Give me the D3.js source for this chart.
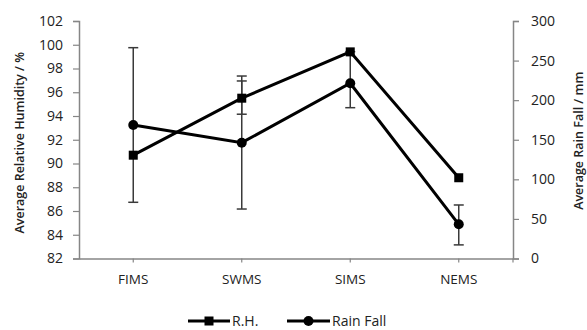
<!DOCTYPE html>
<html><head><meta charset="utf-8">
<script src="https://cdn.jsdelivr.net/npm/d3@7"></script>
<style>
html,body{margin:0;padding:0;background:#fff;}
svg{display:block;font-family:"Open Sans",sans-serif;}
</style></head>
<body><svg id="c" width="587" height="330"></svg>
<script>
const categories = ["FIMS","SWMS","SIMS","NEMS"];
const rhValues = [90.7, 95.5, 99.4, 88.8];
const rhErrPlus = [0, 1.45, 0, 0];
const rhErrMinus = [0, 1.35, 0, 0];
const rainValues = [168.6, 146.3, 221.3, 43.2];
const rainErrPlus = [97.7, 84.2, 40, 24.4];
const rainErrMinus = [97.6, 83.8, 30.8, 26];
const leftTicks = [82,84,86,88,90,92,94,96,98,100,102];
const rightTicks = [0,50,100,150,200,250,300];

const svg = d3.select("#c");
const L = 79, R = 513, T = 21, B = 258.5;
const x = d3.scaleBand().domain(categories).range([L, R]);
const yL = d3.scaleLinear().domain([82,102]).range([B, T]);
const yR = d3.scaleLinear().domain([0,300]).range([B, T]);
const axisColor = "#868686";
const textColor = "#222";

const gL = svg.append("g").attr("transform",`translate(${L},0)`)
  .call(d3.axisLeft(yL).tickValues(leftTicks).tickSize(6).tickPadding(10));
const gR = svg.append("g").attr("transform",`translate(${R},0)`)
  .call(d3.axisRight(yR).tickValues(rightTicks).tickSize(6).tickPadding(12));
const gX = svg.append("g").attr("transform",`translate(0,${B})`)
  .call(d3.axisBottom(x).tickSize(4).tickSizeOuter(0).tickPadding(12));
[gL,gR,gX].forEach(g=>{
  g.selectAll("path.domain").attr("stroke",axisColor).attr("stroke-width",1.5);
  g.selectAll(".tick line").attr("stroke",axisColor).attr("stroke-width",1.2);
  g.selectAll("text").attr("fill",textColor).style("font-size","14px").style("font-family","'Open Sans',sans-serif");
});
gX.selectAll("text").style("font-size","13.5px");
svg.append("line").attr("x1",R).attr("x2",R).attr("y1",B).attr("y2",B+4).attr("stroke",axisColor).attr("stroke-width",1.2);

svg.append("text").attr("transform",`translate(19,${(T+B)/2+3}) rotate(-90)`)
  .attr("text-anchor","middle").attr("dominant-baseline","central")
  .style("font-size","12.5px").style("font-weight","600").attr("fill",textColor)
  .text("Average Relative Humidity / %");
svg.append("text").attr("transform",`translate(578,${(T+B)/2+1}) rotate(-90)`)
  .attr("text-anchor","middle").attr("dominant-baseline","central")
  .style("font-size","12.5px").style("font-weight","600").attr("fill",textColor)
  .text("Average Rain Fall / mm");

const cx = d => x(d) + x.bandwidth()/2;
const errColor = "#3a3a3a";
function errBars(vals, plus, minus, y){
  categories.forEach((c,i)=>{
    if(!(plus[i]>0 || minus[i]>0)) return;
    const xx = cx(c), y1 = y(vals[i]+plus[i]), y2 = y(vals[i]-minus[i]);
    const g = svg.append("g").attr("stroke",errColor).attr("stroke-width",1.5);
    g.append("line").attr("x1",xx).attr("x2",xx).attr("y1",y1).attr("y2",y2);
    g.append("line").attr("x1",xx-5).attr("x2",xx+5).attr("y1",y1).attr("y2",y1);
    g.append("line").attr("x1",xx-5).attr("x2",xx+5).attr("y1",y2).attr("y2",y2);
  });
}
errBars(rainValues, rainErrPlus, rainErrMinus, yR);
errBars(rhValues, rhErrPlus, rhErrMinus, yL);

const lineRH = d3.line().x((d,i)=>cx(categories[i])).y(d=>yL(d));
const lineRain = d3.line().x((d,i)=>cx(categories[i])).y(d=>yR(d));
svg.append("path").attr("d",lineRain(rainValues)).attr("fill","none").attr("stroke","#000").attr("stroke-width",3);
svg.append("path").attr("d",lineRH(rhValues)).attr("fill","none").attr("stroke","#000").attr("stroke-width",3);
svg.selectAll("rect.m").data(rhValues).enter().append("rect")
  .attr("x",(d,i)=>cx(categories[i])-4.5).attr("y",d=>yL(d)-4.5)
  .attr("width",9).attr("height",9).attr("fill","#000");
svg.selectAll("circle.m").data(rainValues).enter().append("circle")
  .attr("cx",(d,i)=>cx(categories[i])).attr("cy",d=>yR(d)).attr("r",5).attr("fill","#000");

const ly = 321;
const lg = svg.append("g");
lg.append("line").attr("x1",188).attr("x2",230).attr("y1",ly).attr("y2",ly).attr("stroke","#000").attr("stroke-width",3);
lg.append("rect").attr("x",209-4.5).attr("y",ly-4.5).attr("width",9).attr("height",9).attr("fill","#000");
lg.append("text").attr("x",232).attr("y",ly+5).style("font-size","14px").attr("fill",textColor).text("R.H.");
lg.append("line").attr("x1",287).attr("x2",330).attr("y1",ly).attr("y2",ly).attr("stroke","#000").attr("stroke-width",3);
lg.append("circle").attr("cx",308.5).attr("cy",ly).attr("r",5).attr("fill","#000");
lg.append("text").attr("x",332).attr("y",ly+5).style("font-size","14px").attr("fill",textColor).text("Rain Fall");
</script></body></html>
